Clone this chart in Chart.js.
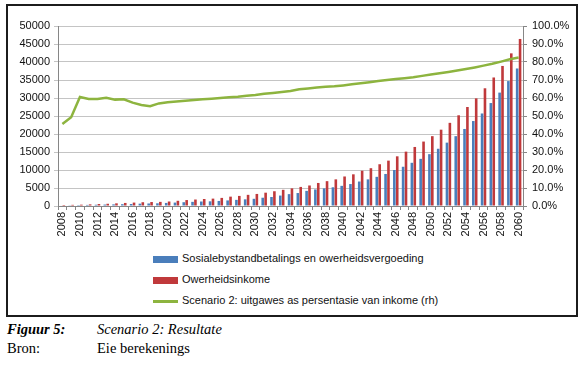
<!DOCTYPE html>
<html lang="af">
<head>
<meta charset="UTF-8">
<title>Scenario 2: Resultate</title>
<script src="https://cdn.jsdelivr.net/npm/chart.js"></script>
<style>
  body { margin: 0; background: #fff; width: 580px; height: 375px; position: relative; overflow: hidden; }
  #box { position: absolute; left: 6px; top: 4px; width: 572px; height: 313px; box-sizing: border-box; border: 2px solid #1c1c1c; }
  #wrap { position: absolute; left: 8px; top: 8px; width: 566px; height: 232px; }
  #legend { position: absolute; left: 153px; top: 250px; font-family: "Liberation Sans", Arial, sans-serif; font-size: 11px; color: #111; }
  #legend div { height: 21px; line-height: 16px; white-space: nowrap; }
  #legend span.sw { display: inline-block; width: 25px; margin-right: 4px; vertical-align: middle; }
  .cap { position: absolute; font-family: "Liberation Serif", "Times New Roman", serif; font-size: 14.5px; color: #000; }
</style>
</head>
<body>
<div id="box"></div>
<div id="wrap"><canvas id="chart" width="566" height="232"></canvas></div>
<div id="legend"></div>
<div class="cap" style="left:7px; top:321px; font-style:italic; font-weight:bold;">Figuur 5:</div>
<div class="cap" style="left:97px; top:321px; font-style:italic;">Scenario 2: Resultate</div>
<div class="cap" style="left:7px; top:340px;">Bron:</div>
<div class="cap" style="left:97px; top:340px;">Eie berekenings</div>
<script>
const years = [2008, 2009, 2010, 2011, 2012, 2013, 2014, 2015, 2016, 2017,
  2018, 2019, 2020, 2021, 2022, 2023, 2024, 2025, 2026, 2027,
  2028, 2029, 2030, 2031, 2032, 2033, 2034, 2035, 2036, 2037,
  2038, 2039, 2040, 2041, 2042, 2043, 2044, 2045, 2046, 2047,
  2048, 2049, 2050, 2051, 2052, 2053, 2054, 2055, 2056, 2057,
  2058, 2059, 2060];

// Sosialebystandbetalings en owerheidsvergoeding
const uitgawes = [150, 200, 250, 300, 350, 400, 450, 500, 550, 650,
  700, 750, 850, 950, 1050, 1150, 1250, 1300, 1400, 1550,
  1700, 1850, 2000, 2300, 2500, 2900, 3300, 3600, 4200, 4600,
  4900, 5200, 5600, 6100, 6800, 7400, 8100, 8900, 10000, 10900,
  12000, 13100, 14400, 15900, 17600, 19400, 21400, 23600, 25700, 28600,
  31500, 34700, 38200];

// Owerheidsinkome
const inkome = [280, 320, 370, 450, 550, 620, 740, 850, 950, 1050,
  1100, 1150, 1250, 1450, 1650, 1800, 1950, 2050, 2250, 2600,
  2800, 3100, 3350, 3700, 4100, 4500, 4900, 5300, 5700, 6400,
  6900, 7400, 8200, 8800, 9800, 10500, 11600, 12600, 13800, 15100,
  16400, 17900, 19400, 21200, 23100, 25200, 27500, 29900, 32700, 35700,
  38900, 42400, 46400];

// Scenario 2: uitgawes as persentasie van inkome (rh), in %
const persentasie = [45.6, 49.3, 60.6, 59.4, 59.4, 60.1, 59.1, 59.3, 57.4, 56.1,
  55.4, 57.0, 57.6, 58.0, 58.5, 58.9, 59.3, 59.6, 60.0, 60.4,
  60.7, 61.3, 61.7, 62.4, 62.8, 63.3, 63.9, 64.8, 65.3, 65.8,
  66.2, 66.5, 67.0, 67.6, 68.2, 68.8, 69.4, 70.0, 70.5, 71.0,
  71.5, 72.3, 73.0, 73.7, 74.5, 75.3, 76.1, 77.0, 78.0, 79.0,
  80.2, 81.5, 82.5];

const seriesNames = [
  'Sosialebystandbetalings en owerheidsvergoeding',
  'Owerheidsinkome',
  'Scenario 2: uitgawes as persentasie van inkome (rh)'
];

const tickFont = { family: '"Liberation Sans", Arial, sans-serif', size: 11 };
const axisGrey = '#868686';
const gridGrey = '#c4c4c4';

const ctx = document.getElementById('chart').getContext('2d');
const chart = new Chart(ctx, {
  data: {
    labels: years,
    datasets: [
      {
        type: 'line',
        label: seriesNames[2],
        data: persentasie,
        yAxisID: 'y1',
        borderColor: '#8db43f',
        backgroundColor: '#8db43f',
        borderWidth: 2.5,
        pointRadius: 0,
        tension: 0,
        order: 0
      },
      {
        type: 'bar',
        label: seriesNames[0],
        data: uitgawes,
        yAxisID: 'y',
        backgroundColor: '#4a7ebb',
        categoryPercentage: 0.66,
        barPercentage: 0.9,
        order: 1
      },
      {
        type: 'bar',
        label: seriesNames[1],
        data: inkome,
        yAxisID: 'y',
        backgroundColor: '#c0393b',
        categoryPercentage: 0.66,
        barPercentage: 0.9,
        order: 1
      }
    ]
  },
  options: {
    responsive: false,
    animation: false,
    layout: { padding: { top: 18, left: 0, right: 0, bottom: 0 } },
    plugins: { legend: { display: false }, tooltip: { enabled: false } },
    scales: {
      x: {
        offset: true,
        grid: { offset: true, drawOnChartArea: false, tickLength: 4, color: axisGrey },
        border: { color: axisGrey },
        ticks: {
          autoSkip: false, minRotation: 90, maxRotation: 90, padding: 2,
          color: '#111', font: tickFont,
          callback: (v, i) => (years[i] % 2 === 0 ? String(years[i]) : '')
        },
        afterFit: s => { s.height = 34; }
      },
      y: {
        position: 'left',
        min: 0, max: 50000,
        grid: { color: gridGrey, tickLength: 4 },
        border: { color: axisGrey },
        ticks: { stepSize: 5000, color: '#111', font: tickFont, padding: 4,
          callback: v => String(v) },
        afterFit: s => { s.width = 50; }
      },
      y1: {
        position: 'right',
        min: 0, max: 100,
        grid: { drawOnChartArea: false, tickLength: 4, color: axisGrey },
        border: { color: axisGrey },
        ticks: { stepSize: 10, color: '#111', font: tickFont, padding: 5,
          callback: v => v.toFixed(1) + '%' },
        afterFit: s => { s.width = 51; }
      }
    }
  }
});

// legend stacked vertically, like the original
const legend = document.getElementById('legend');
[1, 2, 0].forEach(i => {
  const ds = chart.data.datasets[i];
  const row = document.createElement('div');
  const sw = document.createElement('span');
  sw.className = 'sw';
  sw.style.height = ds.type === 'line' ? '3px' : '7px';
  sw.style.background = ds.backgroundColor;
  row.appendChild(sw);
  row.appendChild(document.createTextNode(ds.label));
  legend.appendChild(row);
});
</script>
</body>
</html>
